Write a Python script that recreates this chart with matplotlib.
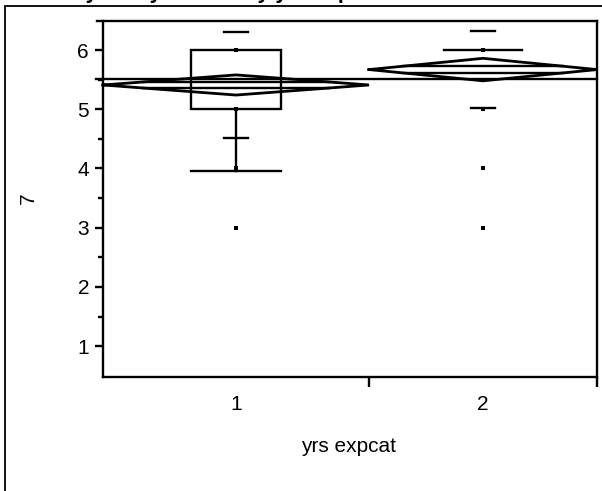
import numpy as np
import matplotlib.pyplot as plt
from matplotlib.patches import Rectangle

plt.rcParams['font.family'] = ['Liberation Sans', 'DejaVu Sans']

# data
categories = ['1', '2']
group_n = [7, 6]
group_means = [5.41, 5.67]
ci_half = [0.17, 0.19]
std_devs = [0.90, 0.65]
grand_mean = 5.51
box_q1 = [5.0, 6.0]
box_q3 = [6.0, 6.0]
whisker_low = [3.95, 6.0]
points = [[6, 5, 4, 3], [6, 5, 4, 3]]

W, H = 602, 491
fig = plt.figure(figsize=(W / 100, H / 100), dpi=100)
ax = fig.add_axes([103 / W, 1 - 377 / H, (597 - 103) / W, (377 - 21) / H])

# group spans proportional to group size (JMP style)
edges = np.concatenate([[0], np.cumsum(group_n) / np.sum(group_n)])
centers = (edges[:-1] + edges[1:]) / 2
lw = 1.7

# grand mean line (sticks out a bit past the left spine)
ax.plot([-0.014, 1], [grand_mean, grand_mean], color='black', lw=lw, clip_on=False)

for i in range(len(categories)):
    left, right, c = edges[i], edges[i + 1], centers[i]
    half = (right - left) / 2
    m, hw = group_means[i], ci_half[i]

    # means diamond
    ax.plot([left, c, right, c, left], [m, m + hw, m, m - hw, m],
            color='black', lw=2.0, clip_on=False, solid_joinstyle='miter')
    # overlap marks
    f = 0.3
    for s in (1, -1):
        ax.plot([c - (1 - f) * half, c + (1 - f) * half], [m + s * f * hw] * 2,
                color='black', lw=lw)

    # box plot
    bw = 0.34 * (right - left) / 2
    if box_q3[i] > box_q1[i]:
        ax.add_patch(Rectangle((c - bw, box_q1[i]), 2 * bw, box_q3[i] - box_q1[i],
                               fill=False, ec='black', lw=lw))
    else:
        ax.plot([c - bw, c + bw], [box_q1[i]] * 2, color='black', lw=lw)
    if whisker_low[i] < box_q1[i]:
        ax.plot([c, c], [box_q1[i], whisker_low[i]], color='black', lw=lw)
        ax.plot([c - bw, c + bw], [whisker_low[i]] * 2, color='black', lw=lw)

    # std dev lines
    sw = 0.025
    for s in (1, -1):
        ax.plot([c - sw, c + sw], [m + s * std_devs[i]] * 2, color='black', lw=lw)

    # raw points
    ax.plot([c] * len(points[i]), points[i], 's', color='black', ms=3.5, mew=0)

ax.set_xlim(0, 1)
ax.set_ylim(0.48, 6.49)

ax.spines['top'].set_visible(False)
for sp in ax.spines.values():
    sp.set_linewidth(lw)
ax.plot([-0.013, 1], [1, 1], transform=ax.transAxes, color='black', lw=lw, clip_on=False)

ax.set_yticks([1, 2, 3, 4, 5, 6])
ax.set_yticks(np.arange(1.5, 6.5, 1.0), minor=True)
ax.tick_params(axis='y', which='major', length=6, width=lw, labelsize=15, pad=4)
ax.tick_params(axis='y', which='minor', length=3.5, width=lw)

ax.set_xticks(list(edges[1:]))
ax.set_xticklabels([])
ax.set_xticks(centers, minor=True)
ax.set_xticklabels(categories, minor=True)
ax.tick_params(axis='x', which='major', length=7, width=lw)
ax.tick_params(axis='x', which='minor', length=0, labelsize=15, pad=13)

fig.text(28 / W, 1 - 198 / H, '7', rotation=90, ha='center', va='center', fontsize=15)
fig.text(349 / W, 1 - 452 / H, 'yrs expcat', ha='center', va='baseline', fontsize=15)

# title row cut off at top of the frame: only the descenders show
fig.text(15 / W, 1 + 1.5 / H, 'Oneway Analysis of 7 By yrs expcat', fontweight='bold',
         fontsize=15.5, va='baseline')

# outer report frame
fig.add_artist(Rectangle((5 / W, -0.1), 1.2, 1.1 - 5.5 / H, transform=fig.transFigure,
                         fill=False, ec='black', lw=1.3))

fig.savefig('out.png', dpi=100)
